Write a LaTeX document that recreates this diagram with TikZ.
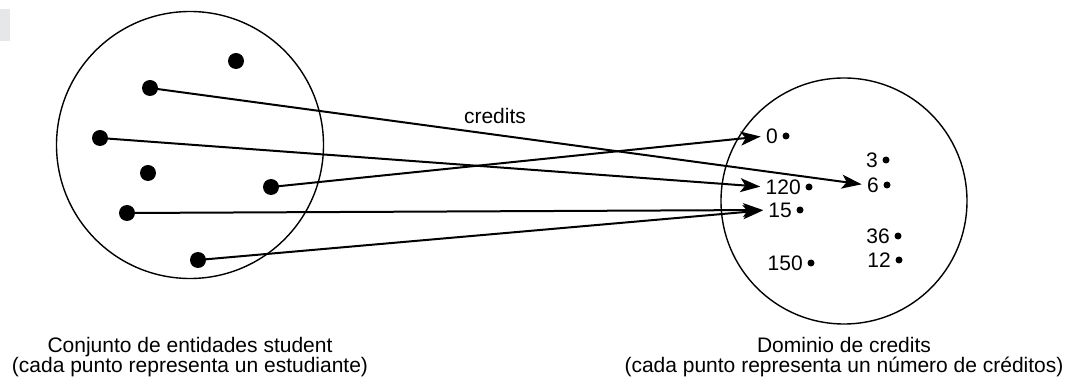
\documentclass[tikz,border=0pt]{standalone}
\usepackage{fontspec}
\setmainfont{Liberation Sans}
\usetikzlibrary{positioning,arrows.meta}
\definecolor{tabgray}{RGB}{230,231,233}

\tikzset{
  studot/.style={circle, fill=black, inner sep=0pt, minimum size=8pt},
  valdot/.style={circle, fill=black, inner sep=0pt, minimum size=3.5pt},
  vallabel/.style={inner sep=0pt, font=\fontsize{10.5}{12}\selectfont},
  mapto/.style={line width=1pt, shorten >=2.5pt, -{Stealth[length=10pt, width=7pt, inset=2.5pt]}},
  setcaption/.style={align=center, anchor=base, inner sep=0pt, font=\fontsize{10.5}{10.3}\selectfont}
}

\begin{document}
\begin{tikzpicture}[x=0.5pt, y=-0.5pt]
            \useasboundingbox (0,0) rectangle (1072,379);
            \fill[tabgray] (0,9) rectangle (10,41);

            % conjuntos
            \draw[line width=0.7pt] (190,145) circle (66.75pt);
            \draw[line width=0.7pt] (844,201) circle (61.5pt);

            % estudiantes
            \node[studot] (s1) at (236,61) {};
            \node[studot] (s2) at (150,88) {};
            \node[studot] (s3) at (100,138) {};
            \node[studot] (s4) at (148,173) {};
            \node[studot] (s5) at (271,187) {};
            \node[studot] (s6) at (127,213) {};
            \node[studot] (s7) at (198,260) {};

            % valores de credits
            \node[valdot] (d0) at (786,136) {};
            \node[valdot] (d3) at (886,160) {};
            \node[valdot] (d6) at (887,185) {};
            \node[valdot] (d120) at (809,187) {};
            \node[valdot] (d15) at (800,210) {};
            \node[valdot] (d36) at (898,236) {};
            \node[valdot] (d12) at (899,260) {};
            \node[valdot] (d150) at (811,263) {};
            \node[vallabel, left=2pt of d0] (v0) {0};
            \node[vallabel, left=2pt of d3] (v3) {3};
            \node[vallabel, left=2pt of d6] (v6) {6};
            \node[vallabel, left=2pt of d120] (v120) {120};
            \node[vallabel, left=2pt of d15] (v15) {15};
            \node[vallabel, left=2pt of d36] (v36) {36};
            \node[vallabel, left=2pt of d12] (v12) {12};
            \node[vallabel, left=2pt of d150] (v150) {150};

            \draw[mapto] (s2.center) -- (v6.west);
            \draw[mapto] (s3.center) -- (v120.west);
            \draw[mapto] (s5.center) -- (v0.west);
            \draw[mapto] (s6.center) -- (v15.west);
            \draw[mapto] (s7.center) -- (v15.west);

            \node[vallabel] (maplabel) at (495,116) {credits};

            \node[setcaption] (capstu) at (190,373) {Conjunto de entidades student\\(cada punto representa un estudiante)};
            \node[setcaption] (capcred) at (844,373) {Dominio de credits\\(cada punto representa un número de créditos)};
\end{tikzpicture}
\end{document}
